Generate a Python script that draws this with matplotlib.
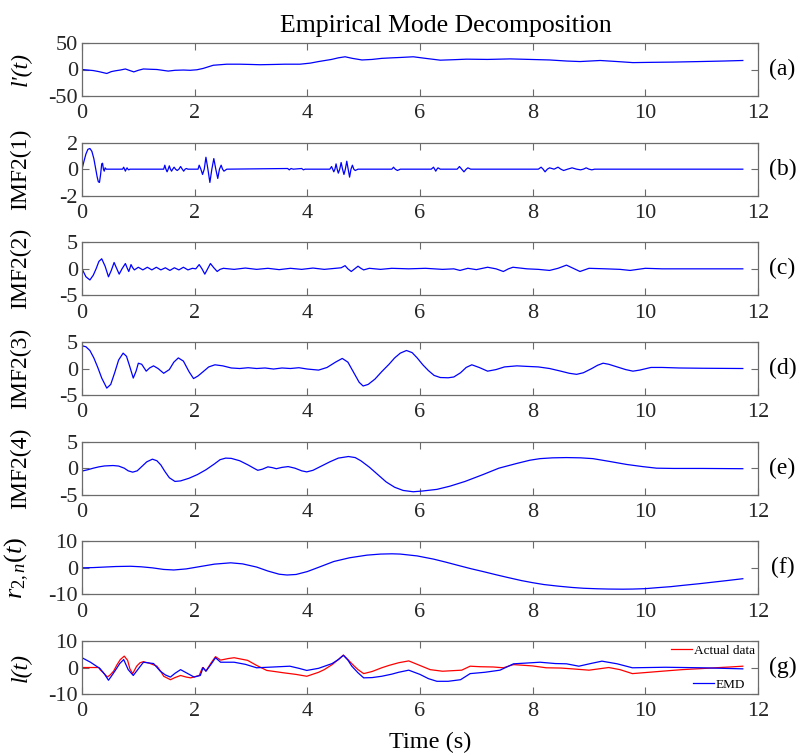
import numpy as np
import matplotlib
matplotlib.use("Agg")
import matplotlib.pyplot as plt

plt.rcParams['font.family'] = 'Liberation Serif'
plt.rcParams['mathtext.fontset'] = 'custom'
plt.rcParams['mathtext.rm'] = 'Liberation Serif'
plt.rcParams['mathtext.it'] = 'Liberation Serif:italic'
plt.rcParams['axes.unicode_minus'] = False

# (a) l'(t)
t_a = [0, 0.1, 0.2, 0.3, 0.44, 0.52, 0.59, 0.68, 0.77, 0.85, 0.92, 1.0, 1.09, 1.2,
       1.33, 1.43, 1.53, 1.65, 1.8, 1.92, 2.04, 2.15, 2.33, 2.45, 2.57, 2.8, 3.0, 3.16,
       3.4, 3.6, 3.87, 4.05, 4.2, 4.43, 4.55, 4.67, 4.8, 4.97, 5.15, 5.32, 5.5, 5.65,
       5.88, 6.1, 6.36, 6.6, 6.83, 7.2, 7.6, 7.95, 8.3, 8.6, 8.84, 9.2, 9.5, 9.78,
       10.1, 10.5, 10.97, 11.4, 11.73]
v_a = [0, -1, -2, -4, -7.5, -4, -2.5, -1, 1, -2, -4.5, -1.5, 1, 0.5,
       0, -1.5, -3, -1.5, -1, -1.5, -0.5, 2, 8, 9, 10, 10, 9.5, 9,
       9.5, 10, 10, 12, 15, 19, 22, 24, 21, 18, 19, 21, 22, 22.7,
       24, 21, 17.6, 18.5, 19.5, 19, 20, 19, 18, 16, 15, 17, 15, 13,
       13.5, 14, 15, 16, 17]

# (b) IMF2(1)
t_b = [0, 0.035, 0.07, 0.105, 0.14, 0.175, 0.21, 0.24, 0.27, 0.29, 0.31, 0.33, 0.35, 0.365,
       0.38, 0.395, 0.41, 0.43, 0.72, 0.74, 0.755, 0.77, 0.785, 0.8, 0.815, 0.83, 0.85, 1.45,
       1.47, 1.49, 1.51, 1.53, 1.55, 1.57, 1.59, 1.61, 1.635, 1.66, 1.69, 1.72, 1.75, 1.78,
       1.805, 1.83, 1.855, 1.88, 2.06, 2.08, 2.11, 2.14, 2.17, 2.2, 2.235, 2.27, 2.305, 2.34,
       2.375, 2.41, 2.44, 2.47, 2.495, 2.52, 2.57, 3.65, 3.68, 3.71, 3.75, 3.9, 3.93, 3.96,
       4.4, 4.43, 4.45, 4.47, 4.49, 4.51, 4.53, 4.55, 4.575, 4.6, 4.625, 4.65, 4.675, 4.7,
       4.725, 4.75, 4.775, 4.8, 4.825, 4.85, 4.9, 5.5, 5.53, 5.56, 5.6, 5.65, 6.2, 6.24,
       6.26, 6.28, 6.3, 6.32, 6.36, 6.66, 6.7, 6.74, 6.78, 6.82, 6.85, 6.9, 8.1, 8.15,
       8.185, 8.22, 8.26, 8.3, 8.38, 8.45, 8.5, 8.55, 8.62, 8.7, 8.78, 8.85, 8.9, 8.95,
       9.0, 9.05, 9.1, 11.73]
v_b = [0, 0.6, 1.15, 1.5, 1.56, 1.35, 0.8, 0.1, -0.6, -0.95, -1.0, -0.4, 0.4, 0.45,
       0.0, -0.15, 0.1, 0, 0, 0.15, 0, -0.15, 0, 0.1, 0, -0.05, 0, 0,
       0.3, 0, -0.2, 0, 0.25, 0, -0.15, 0, 0.15, 0, -0.1, 0, 0.2, 0,
       -0.15, 0, 0.05, 0, 0, 0.3, 0, -0.4, 0, 0.9, 0, -1.0, 0, 0.8,
       0, -0.7, 0, 0.3, 0, -0.15, 0, 0.05, -0.05, 0.05, 0, 0.05, -0.05, 0,
       0, 0.2, 0, -0.2, 0, 0.4, 0, -0.3, 0, 0.5, 0, -0.4, 0, 0.6,
       0, -0.6, 0, 0.3, 0, -0.1, 0, 0, 0.15, 0, -0.1, 0, 0, 0.15,
       0, -0.15, 0, 0.1, 0, 0, 0.2, 0, -0.2, 0, 0.1, 0, 0, 0.15,
       0, -0.2, 0, 0.1, 0, 0.15, 0, -0.1, 0, 0.1, 0, -0.05, 0, 0.1,
       0, -0.05, 0, 0]

# (c) IMF2(2)
t_c = [0, 0.07, 0.14, 0.2, 0.25, 0.3, 0.35, 0.41, 0.47, 0.52, 0.57, 0.61, 0.66, 0.71,
       0.77, 0.8, 0.83, 0.85, 0.87, 0.9, 0.93, 1.0, 1.08, 1.16, 1.24, 1.32, 1.4, 1.48,
       1.56, 1.64, 1.72, 1.8, 1.88, 1.96, 2.02, 2.08, 2.13, 2.18, 2.23, 2.28, 2.34, 2.4,
       2.45, 2.51, 2.7, 2.9, 3.1, 3.3, 3.5, 3.7, 3.9, 4.1, 4.3, 4.5, 4.6, 4.67,
       4.72, 4.78, 4.84, 4.9, 4.95, 5.0, 5.1, 5.3, 5.5, 5.8, 6.1, 6.4, 6.6, 6.71,
       6.85, 7.0, 7.2, 7.35, 7.48, 7.57, 7.65, 7.9, 8.1, 8.3, 8.45, 8.6, 8.72, 8.84,
       9.0, 9.3, 9.55, 9.73, 10.0, 10.3, 11.73]
v_c = [0, -1.5, -2.1, -1.2, 0, 1.4, 1.9, 0.5, -1.5, -0.3, 1.2, 0.2, -1.0, 0,
       1.0, 0.2, -0.5, 0.1, 0.8, 0.2, -0.2, 0.3, -0.2, 0.3, -0.2, 0.3, -0.2, 0.2,
       -0.3, 0.2, -0.2, 0.3, -0.2, 0.1, 0, 0.8, 0, -1.0, 0, 1.0, 0.2, -0.5,
       -0.1, 0.1, -0.1, 0.15, -0.1, 0.1, -0.15, 0.1, -0.1, 0.15, -0.1, 0.1, 0.2, 0.6,
       0, -0.5, 0, 0.5, 0.1, -0.2, 0.1, -0.1, 0.1, 0, 0.1, -0.1, 0, -0.3,
       0.1, -0.15, 0.3, 0, -0.5, 0, 0.3, 0, -0.1, -0.3, 0.1, 0.7, 0.1, -0.5,
       0.1, 0, -0.1, -0.3, 0.1, 0, 0]

# (d) IMF2(3)
t_d = [0, 0.07, 0.14, 0.21, 0.28, 0.35, 0.44, 0.51, 0.58, 0.65, 0.73, 0.79, 0.85, 0.91,
       0.96, 1.0, 1.06, 1.14, 1.2, 1.27, 1.35, 1.45, 1.55, 1.63, 1.71, 1.8, 1.9, 1.98,
       2.06, 2.15, 2.25, 2.36, 2.5, 2.65, 2.8, 2.95, 3.1, 3.25, 3.4, 3.55, 3.7, 3.85,
       4.0, 4.2, 4.35, 4.5, 4.62, 4.72, 4.82, 4.92, 4.99, 5.08, 5.2, 5.32, 5.45, 5.55,
       5.65, 5.76, 5.86, 5.95, 6.05, 6.15, 6.25, 6.36, 6.5, 6.6, 6.72, 6.82, 6.92, 7.05,
       7.2, 7.35, 7.5, 7.72, 7.9, 8.1, 8.3, 8.5, 8.65, 8.78, 8.9, 9.05, 9.15, 9.25,
       9.35, 9.5, 9.65, 9.78, 9.9, 10.1, 10.3, 10.6, 11.0, 11.73]
v_d = [4.3, 4.1, 3.4, 2.0, 0.2, -1.8, -3.7, -3.0, -0.8, 1.6, 2.9, 2.3, 0.3, -1.8,
       -0.5, 1.0, 0.8, -0.5, 0.1, 0.5, 0.0, -0.9, -0.2, 1.2, 2.0, 1.4, -0.6, -1.9,
       -1.4, -0.6, 0.3, 0.7, 0.5, 0.1, 0.0, 0.15, 0.0, 0.1, -0.1, 0.1, 0.0, 0.15,
       -0.1, -0.3, 0.2, 1.2, 1.9, 1.2, -0.7, -2.6, -3.3, -3.0, -2.0, -0.6, 0.8, 2.0,
       2.9, 3.4, 3.0, 2.0, 0.7, -0.4, -1.3, -1.7, -1.75, -1.6, -0.8, 0.2, 0.7, 0.2,
       -0.5, -0.2, 0.3, 0.5, 0.4, 0.3, 0.0, -0.5, -0.9, -1.1, -0.8, 0.0, 0.6, 1.0,
       0.8, 0.3, -0.2, -0.5, -0.3, 0.2, 0.2, 0.1, 0.05, 0]

# (e) IMF2(4)
t_e = [0, 0.1, 0.2, 0.3, 0.4, 0.55, 0.65, 0.75, 0.82, 0.9, 0.98, 1.06, 1.15, 1.25,
       1.33, 1.4, 1.47, 1.55, 1.65, 1.75, 1.9, 2.05, 2.2, 2.35, 2.45, 2.55, 2.65, 2.8,
       2.95, 3.05, 3.12, 3.2, 3.3, 3.38, 3.45, 3.55, 3.66, 3.78, 3.9, 3.99, 4.1, 4.25,
       4.4, 4.55, 4.73, 4.85, 4.95, 5.1, 5.25, 5.4, 5.55, 5.7, 5.88, 6.05, 6.3, 6.53,
       6.8, 7.12, 7.4, 7.72, 7.95, 8.13, 8.35, 8.6, 8.85, 9.07, 9.35, 9.67, 9.95, 10.2,
       10.5, 11.0, 11.73]
v_e = [-0.55, -0.3, 0.0, 0.25, 0.42, 0.5, 0.4, 0.0, -0.5, -0.75, -0.5, 0.3, 1.2, 1.7,
       1.4, 0.6, -0.6, -1.8, -2.5, -2.4, -1.9, -1.2, -0.3, 0.8, 1.6, 1.9, 1.85, 1.4,
       0.6, 0.0, -0.4, -0.2, 0.25, 0.1, -0.1, 0.15, 0.3, 0.0, -0.5, -0.7, -0.4, 0.4,
       1.2, 1.9, 2.2, 2.0, 1.4, 0.2, -1.2, -2.6, -3.6, -4.2, -4.45, -4.3, -4.0, -3.4,
       -2.5, -1.2, 0.0, 0.9, 1.5, 1.8, 1.95, 2.0, 1.95, 1.8, 1.3, 0.7, 0.3, 0.0,
       -0.05, -0.05, -0.1]

# (f) r_{2,n}(t)
t_f = [0, 0.2, 0.4, 0.6, 0.86, 1.05, 1.25, 1.45, 1.63, 1.85, 2.1, 2.35, 2.64, 2.85,
       3.1, 3.3, 3.5, 3.64, 3.8, 4.0, 4.2, 4.47, 4.75, 5.06, 5.3, 5.5, 5.65, 5.95,
       6.24, 6.45, 6.7, 6.9, 7.12, 7.35, 7.55, 7.8, 8.0, 8.2, 8.45, 8.7, 8.9, 9.15,
       9.35, 9.6, 9.78, 10.0, 10.2, 10.45, 10.67, 10.95, 11.2, 11.45, 11.73]
v_f = [0, 0.1, 0.3, 0.5, 0.6, 0.4, 0.0, -0.6, -0.8, -0.4, 0.5, 1.4, 1.9, 1.5,
       0.3, -1.2, -2.4, -2.7, -2.5, -1.4, 0.2, 2.4, 3.8, 4.8, 5.2, 5.3, 5.2, 4.5,
       3.3, 2.2, 0.8, -0.3, -1.4, -2.6, -3.6, -4.8, -5.6, -6.3, -6.9, -7.4, -7.7, -7.9,
       -8.0, -8.05, -8.0, -7.85, -7.5, -7.1, -6.6, -6.0, -5.4, -4.8, -4.1]

# (g) l(t): actual data and EMD
t_act = [0, 0.3, 0.32, 0.38, 0.45, 0.5, 0.56, 0.62, 0.68, 0.75, 0.81, 0.85, 0.9, 0.97,
         1.03, 1.09, 1.2, 1.33, 1.4, 1.45, 1.57, 1.65, 1.75, 1.85, 1.93, 2.08, 2.14, 2.2,
         2.3, 2.37, 2.46, 2.6, 2.7, 2.94, 3.1, 3.28, 3.45, 3.58, 3.8, 3.99, 4.2, 4.3,
         4.44, 4.55, 4.64, 4.72, 4.82, 4.9, 5.0, 5.15, 5.32, 5.45, 5.62, 5.8, 5.95, 6.18,
         6.4, 6.74, 6.89, 7.07, 7.3, 7.48, 7.66, 8.0, 8.24, 8.5, 8.7, 9.0, 9.35, 9.55,
         9.77, 10.06, 10.35, 10.65, 11.0, 11.24, 11.5, 11.73]
v_act = [0, 0, -0.8, -2.0, -3.6, -2.8, -1.4, 1.0, 3.0, 4.3, 2.7, -0.5, -2.3, 0.5,
         1.8, 2.2, 1.6, 0.5, -1.5, -3.3, -4.6, -3.8, -3.0, -3.6, -3.9, -3.0, 0, -1.3,
         2.0, 4.1, 2.8, 3.4, 3.7, 2.7, 0.8, -1.1, -1.6, -2.0, -2.6, -3.3, -1.8, -0.8,
         1.1, 3.0, 4.7, 3.0, 0.8, -0.8, -2.3, -1.5, -0.1, 0.8, 1.8, 2.5, 1.2, -0.8,
         -1.4, -1.0, 0.5, 0.3, 0.2, -0.1, 1.1, 0.6, -0.1, -0.2, -0.5, -1.0, 0, -0.8,
         -2.3, -1.8, -1.3, -0.8, -0.4, -0.1, 0.2, 0.5]
t_emd = [0, 0.15, 0.32, 0.4, 0.47, 0.53, 0.6, 0.67, 0.74, 0.82, 0.91, 1.0, 1.09, 1.27,
         1.39, 1.48, 1.57, 1.65, 1.75, 1.87, 1.99, 2.1, 2.15, 2.2, 2.3, 2.37, 2.46, 2.7,
         2.9, 3.1, 3.4, 3.69, 3.85, 3.99, 4.2, 4.44, 4.55, 4.64, 4.72, 4.79, 4.9, 5.0,
         5.15, 5.32, 5.5, 5.62, 5.8, 6.0, 6.15, 6.3, 6.5, 6.72, 6.89, 7.15, 7.42, 7.66,
         7.9, 8.13, 8.4, 8.6, 8.82, 9.05, 9.23, 9.5, 9.77, 10.36, 11.0, 11.73]
v_emd = [3.7, 2.0, -0.4, -2.5, -4.8, -3.0, -0.8, 1.5, 3.0, -0.8, -3.0, -0.5, 2.0, 1.5,
         -1.4, -2.8, -3.6, -2.2, -0.8, -2.2, -3.6, -3.0, 0, -1.4, 1.5, 3.7, 2.0, 2.0,
         1.2, -0.1, 0.2, 0.5, -0.3, -1.1, -0.3, 1.5, 3.0, 4.6, 2.8, 0.5, -2.0, -3.9,
         -3.8, -3.3, -2.5, -1.8, -1.0, -2.6, -4.2, -5.2, -5.2, -4.6, -2.3, -1.8, -1.0, 1.4,
         1.7, 2.0, 1.5, 1.4, 0.5, 1.6, 2.4, 1.4, -0.1, 0.1, -0.1, -0.5]

panels = [
    (t_a, v_a, (-50, 50), [-50, 0, 50], "l'(t)", "(a)"),
    (t_b, v_b, (-2, 2), [-2, 0, 2], "IMF2(1)", "(b)"),
    (t_c, v_c, (-5, 5), [-5, 0, 5], "IMF2(2)", "(c)"),
    (t_d, v_d, (-5, 5), [-5, 0, 5], "IMF2(3)", "(d)"),
    (t_e, v_e, (-5, 5), [-5, 0, 5], "IMF2(4)", "(e)"),
    (t_f, v_f, (-10, 10), [-10, 0, 10], r"$r_{2,n}(t)$", "(f)"),
    (None, None, (-10, 10), [-10, 0, 10], "l(t)", "(g)"),
]

W, H = 798, 756
fig = plt.figure(figsize=(W / 100, H / 100), dpi=100)
frame = '#6b6b6b'

for i, (t, v, ylim, yt, lab, tag) in enumerate(panels):
    bot = 96 + 99.67 * i
    ax = fig.add_axes([82 / W, 1 - bot / H, 676 / W, 53 / H])
    if t is not None:
        ax.plot(t, v, color='b', lw=0.9)
    else:
        h1, = ax.plot(t_act, v_act, color='r', lw=0.9)
        h2, = ax.plot(t_emd, v_emd, color='b', lw=0.9)
        leg1 = ax.legend([h1], ['Actual data'], loc='upper right', frameon=False,
                         fontsize=9.5, handlelength=1.6, handletextpad=0.1,
                         borderaxespad=0.0, borderpad=0.25)
        ax.add_artist(leg1)
        ax.legend([h2], ['EMD'], loc='lower right', frameon=False, fontsize=9.5,
                  handlelength=1.6, handletextpad=0.1, borderaxespad=0.0,
                  borderpad=0.25, bbox_to_anchor=(1 - 10 / 676, 0))
    ax.set_xlim(0, 12)
    ax.set_ylim(ylim)
    ax.set_xticks(range(0, 13, 2))
    ax.set_yticks(yt)
    ax.tick_params(direction='in', top=True, right=True, length=5, width=0.8,
                   color=frame, labelsize=16, labelcolor='#262626')
    ax.tick_params(axis='x', pad=6)
    ax.tick_params(axis='y', pad=3)
    for s in ax.spines.values():
        s.set_color(frame)
        s.set_linewidth(0.9)
    if lab.startswith('$'):
        ax.set_ylabel(lab, fontsize=19)
    else:
        ax.set_ylabel(lab, fontsize=17, style='italic' if 't)' in lab else 'normal')
    ax.yaxis.set_label_coords(-0.075, 0.5)
    ax.text(1.036, 0.5, tag, transform=ax.transAxes, fontsize=17,
            ha='center', va='center')

fig.text(446 / W, 1 - 26 / H, 'Empirical Mode Decomposition', fontsize=18.5,
         ha='center', va='center')
fig.text(430 / W, 1 - 742 / H, 'Time (s)', fontsize=17.5, ha='center', va='center')

fig.savefig('out.png', dpi=100)
